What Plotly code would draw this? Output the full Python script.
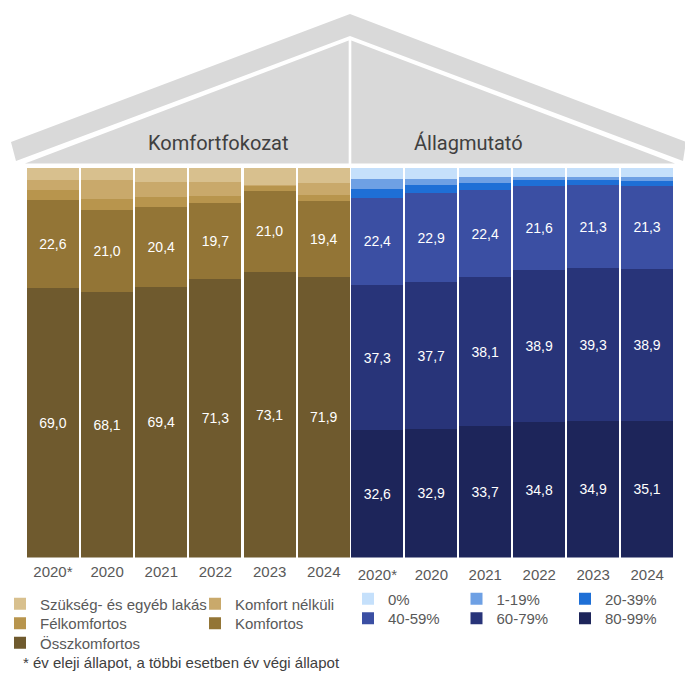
import plotly.graph_objects as go

W, H = 685, 673

years = ["2020*", "2020", "2021", "2022", "2023", "2024"]

# Komfortfokozat (%), bottom to top
osszkomfortos = [69.0, 68.1, 69.4, 71.3, 73.1, 71.9]
komfortos = [22.6, 21.0, 20.4, 19.7, 21.0, 19.4]
felkomfortos = [2.7, 2.9, 2.6, 1.8, 1.3, 1.7]
komfort_nelkuli = [2.5, 4.7, 3.9, 3.5, 0.1, 3.1]
szukseg = [3.2, 3.3, 3.7, 3.7, 4.5, 3.9]

# Állagmutató (%), bottom to top
a80_99 = [32.6, 32.9, 33.7, 34.8, 34.9, 35.1]
a60_79 = [37.3, 37.7, 38.1, 38.9, 39.3, 38.9]
a40_59 = [22.4, 22.9, 22.4, 21.6, 21.3, 21.3]
a20_39 = [2.2, 2.1, 1.9, 1.4, 1.3, 1.2]
a1_19 = [2.6, 1.5, 1.4, 0.8, 0.8, 1.0]
a0 = [2.9, 2.9, 2.5, 2.5, 2.4, 2.5]


def px(x):
    return x / W


def py(y):
    return 1 - y / H


fig = go.Figure()

# legend: one legend per row / column cell so the columns line up like the original
left = [
    ("Összkomfortos", osszkomfortos, "#6F5A2E", True, "legend5"),
    ("Komfortos", komfortos, "#937536", True, "legend4"),
    ("Félkomfortos", felkomfortos, "#B8954D", False, "legend3"),
    ("Komfort nélküli", komfort_nelkuli, "#C9A96B", False, "legend2"),
    ("Szükség- és egyéb lakás", szukseg, "#D8C08E", False, "legend"),
]
for name, vals, col, lab, leg in left:
    fig.add_trace(go.Bar(
        x=years, y=vals, name=name, marker=dict(color=col, line=dict(width=0)),
        texttemplate="%{y:.1f}" if lab else None, textposition="inside" if lab else "none",
        insidetextanchor="middle", textangle=0,
        insidetextfont=dict(color="white", size=14, family="Liberation Sans"),
        xaxis="x", yaxis="y", legend=leg,
    ))

right = [
    ("80-99%", a80_99, "#1D255A", True, "legend7", 3),
    ("60-79%", a60_79, "#283479", True, "legend7", 2),
    ("40-59%", a40_59, "#3B4FA3", True, "legend7", 1),
    ("20-39%", a20_39, "#1E6FD6", False, "legend6", 3),
    ("1-19%", a1_19, "#6EA0E4", False, "legend6", 2),
    ("0%", a0, "#C5E0FB", False, "legend6", 1),
]
for name, vals, col, lab, leg, rank in right:
    fig.add_trace(go.Bar(
        x=years, y=vals, name=name, marker=dict(color=col, line=dict(width=0)),
        texttemplate="%{y:.1f}" if lab else None, textposition="inside" if lab else "none",
        insidetextanchor="middle", textangle=0,
        insidetextfont=dict(color="white", size=14, family="Liberation Sans"),
        xaxis="x2", yaxis="y2", legend=leg, legendrank=rank,
    ))

# roof
grey = "#D9D9D9"
band = [(10, 142), (349.5, 14), (686, 142), (683, 161), (349.5, 36), (15, 161)]
tri_l = [(24, 163.5), (348.2, 40.5), (348.2, 163.5)]
tri_r = [(350.8, 40.5), (675, 163.5), (350.8, 163.5)]
shapes = []
for poly in (band, tri_l, tri_r):
    path = "M " + " L ".join(f"{px(x):.5f},{py(y):.5f}" for x, y in poly) + " Z"
    shapes.append(dict(type="path", path=path, xref="paper", yref="paper",
                       fillcolor=grey, line=dict(width=0), layer="below"))

ann = [
    dict(text="Komfortfokozat", x=px(218), y=py(143)),
    dict(text="Állagmutató", x=px(468), y=py(143)),
]
annotations = [dict(a, xref="paper", yref="paper", showarrow=False, xanchor="center",
                    yanchor="middle", font=dict(size=20, color="#404040", family="Roboto"))
               for a in ann]
annotations.append(dict(text="* év eleji állapot, a többi esetben év végi állapot",
                        x=px(20), y=py(662), xref="paper", yref="paper", showarrow=False,
                        xanchor="left", yanchor="middle",
                        font=dict(size=15, color="#404040", family="Liberation Sans")))

leg_font = dict(size=15, color="#595959", family="Liberation Sans")


def legend_row(x, y, ew):
    return dict(orientation="h", x=px(x), y=py(y), xanchor="left", yanchor="middle",
                entrywidth=ew, entrywidthmode="pixels", font=leg_font,
                bgcolor="rgba(0,0,0,0)", itemclick=False, traceorder="normal")


ybot, ytop = 557.5, 167.5
axis_y = dict(range=[0, 100], visible=False, domain=[py(ybot), py(ytop)])


def axis_x(dom, anchor, standoff):
    return dict(domain=dom, anchor=anchor, showgrid=False, zeroline=False, showline=False,
                ticks="", ticklabelstandoff=standoff,
                tickfont=dict(size=15, color="#595959", family="Liberation Sans"))


fig.update_layout(
    width=W, height=H, margin=dict(l=0, r=0, t=0, b=0),
    paper_bgcolor="white", plot_bgcolor="white",
    barmode="stack", bargap=0.04, separators=", ",
    xaxis=axis_x([px(24.9), px(350.4)], "y", 3),
    yaxis=dict(axis_y, anchor="x"),
    xaxis2=axis_x([px(349.9), px(674.1)], "y2", 6),
    yaxis2=dict(axis_y, anchor="x2"),
    showlegend=True,
    legend=legend_row(-1, 604, 170),
    legend2=legend_row(195, 604, 120),
    legend3=legend_row(-1, 623.5, 170),
    legend4=legend_row(195, 623.5, 120),
    legend5=legend_row(-1, 643, 170),
    legend6=legend_row(348, 599, 63.5),
    legend7=legend_row(348, 618.5, 63.5),
    shapes=shapes, annotations=annotations,
)

fig.write_html("out.html", config={"displayModeBar": False},
               post_script="document.body.style.margin='0px';")
